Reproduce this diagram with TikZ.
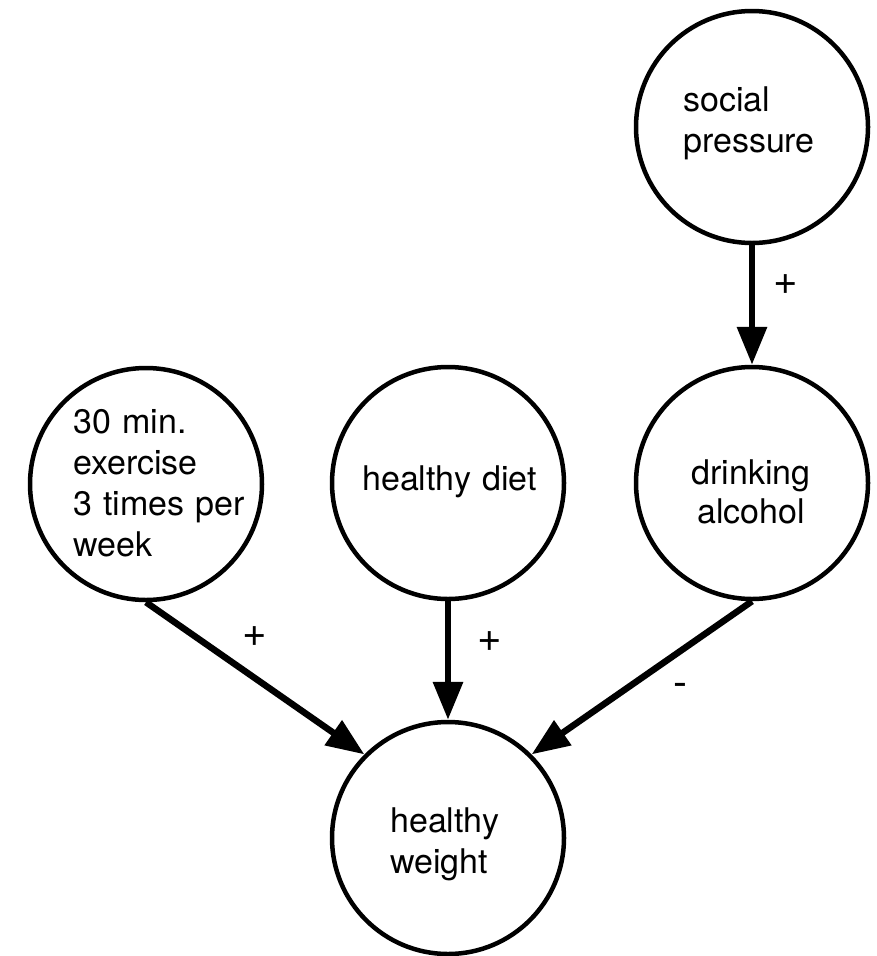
\documentclass[tikz,border=0pt]{standalone}
\usepackage{fontspec}
\setmainfont{TeX Gyre Heros}
\usetikzlibrary{arrows.meta}

\tikzset{
  bubble/.style={circle, draw=black, line width=4.5pt, minimum size=232pt, inner sep=0pt, fill=white},
  bubbletext/.style={inner sep=0pt, text width=220pt, align=left, anchor=base west,
                     font=\fontsize{34}{41}\selectfont},
  link/.style={line width=6.5pt, -{Triangle[width=29pt,length=38pt]}},
  sign/.style={inner sep=0pt, font=\fontsize{42}{48}\selectfont}
}

\begin{document}
\begin{tikzpicture}[x=1pt, y=-1pt]
  \useasboundingbox (0,0) rectangle (877,956);

  % factors
  \node[bubble] (social)   at (752,127) {};
  \node[bubble] (exercise) at (146,484) {};
  \node[bubble] (diet)     at (448,483) {};
  \node[bubble] (drinking) at (752,483) {};
  \node[bubble] (weight)   at (448,838) {};

  % labels inside the circles (first-line baselines)
  \node[bubbletext] (social-t)   at (683,111) {social\\pressure};
  \node[bubbletext] (exercise-t) at (73,433)  {30 min.\\exercise\\3 times per\\week};
  \node[bubbletext] (diet-t)     at (362,490) {healthy diet};
  \node[bubbletext, align=center, text width=200pt, anchor=base, font=\fontsize{34}{39}\selectfont]
                    (drinking-t) at (751,484) {drinking\\alcohol};
  \node[bubbletext] (weight-t)   at (390,832) {healthy\\weight};

  % influences
  \draw[link] (social.south)   -- (drinking.north);
  \draw[link] (exercise.south) -- (weight.135);
  \draw[link] (diet.south)     -- (weight.north);
  \draw[link] (drinking.south) -- (weight.45);

  % signs of the influences
  \node[sign] (s1) at (786,285) {+};
  \node[sign] (s2) at (255,637) {+};
  \node[sign] (s3) at (490,642) {+};
  \node[sign] (s4) at (680,690) {-};
\end{tikzpicture}
\end{document}
